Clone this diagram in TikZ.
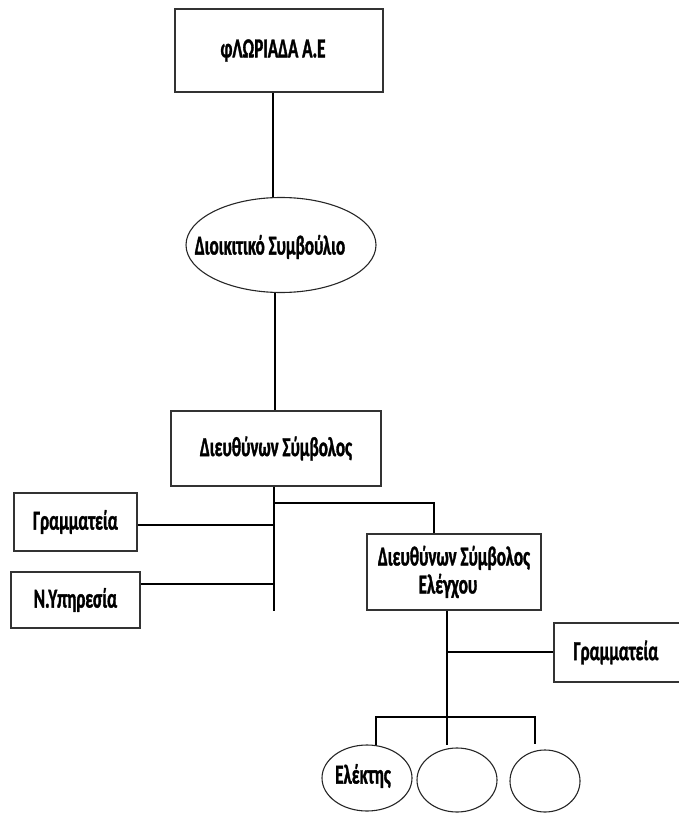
\documentclass[tikz,border=0pt]{standalone}
\usepackage{fontspec}
\newfontfamily\cbold{Carlito-Bold.ttf}[FakeStretch=0.62, FakeBold=1.2]
\usetikzlibrary{shapes.geometric}
\tikzset{
  box/.style={draw=black!80, line width=1.4pt, rectangle, inner sep=0pt, align=center, font=\fontsize{27.5}{30}\cbold},
  oval/.style={draw=black!85, line width=1.1pt, ellipse, inner sep=0pt},
  txt/.style={inner sep=0pt, font=\fontsize{27.5}{30}\cbold},
  conn/.style={draw=black, line width=1.3pt},
}
\begin{document}
\begin{tikzpicture}[x=1pt,y=-1pt]
\useasboundingbox (0,0) rectangle (679,813);
% boxes
\node[box, minimum width=208pt, minimum height=83pt] (top) at (279,50.5) {φΛΩΡΙΑΔΑ Α.Ε\hspace*{12pt}};
\node[oval, minimum width=190pt, minimum height=95pt] (board) at (281,245) {};
\node[txt] (boardt) at (270,247) {Διοικιτικό Συμβούλιο};
\node[box, minimum width=210pt, minimum height=75pt] (ceo) at (276,448.5) {Διευθύνων Σύμβολος};
\node[box, minimum width=123pt, minimum height=58pt] (gram1) at (75.5,522) {Γραμματεία};
\node[box, minimum width=129pt, minimum height=56pt] (nyp) at (75.5,600) {Ν.Υπηρεσία};
\node[box, minimum width=174pt, minimum height=76pt] (ctrl) at (454,572) {Διευθύνων Σύμβολος\\[-2pt]Ελέγχου\hspace*{12pt}};
\node[box, minimum width=136pt, minimum height=59pt] (gram2) at (622,652.5) {Γραμματεία\hspace*{12pt}};
\node[oval, minimum width=90pt, minimum height=66pt] (el) at (367,778) {};
\node[txt] (elt) at (363,776) {Ελέκτης};
\node[oval, minimum width=80pt, minimum height=64pt] (e2) at (457,780) {};
\node[oval, minimum width=70pt, minimum height=62pt] (e3) at (545,781) {};
% coordinates
\coordinate (t1) at (274,503);
\coordinate (t1r) at (434,503);
\coordinate (t2) at (274,525);
\coordinate (t3) at (274,584);
\coordinate (tend) at (274,611);
\coordinate (c1) at (447,652);
\coordinate (c2) at (447,717);
\coordinate (l1) at (376,717);
\coordinate (r1) at (535,717);
\coordinate (l2) at (376,745);
\coordinate (m2) at (447,745);
\coordinate (r2) at (535,744);
% connectors
\draw[conn] (top.south -| 273,0) -- (board.north -| 273,0);
\draw[conn] (board.south -| 275,0) -- (ceo.north -| 275,0);
\draw[conn] (ceo.south -| tend) -- (tend);
\draw[conn] (t1) -- (t1r) -- (ctrl.north -| t1r);
\draw[conn] (t2) -- (gram1.east |- t2);
\draw[conn] (t3) -- (nyp.east |- t3);
\draw[conn] (ctrl.south -| c2) -- (c2);
\draw[conn] (c1) -- (gram2.west |- c1);
\draw[conn] (l2) -- (l1) -- (r1) -- (r2);
\draw[conn] (c2) -- (m2);
\end{tikzpicture}
\end{document}
